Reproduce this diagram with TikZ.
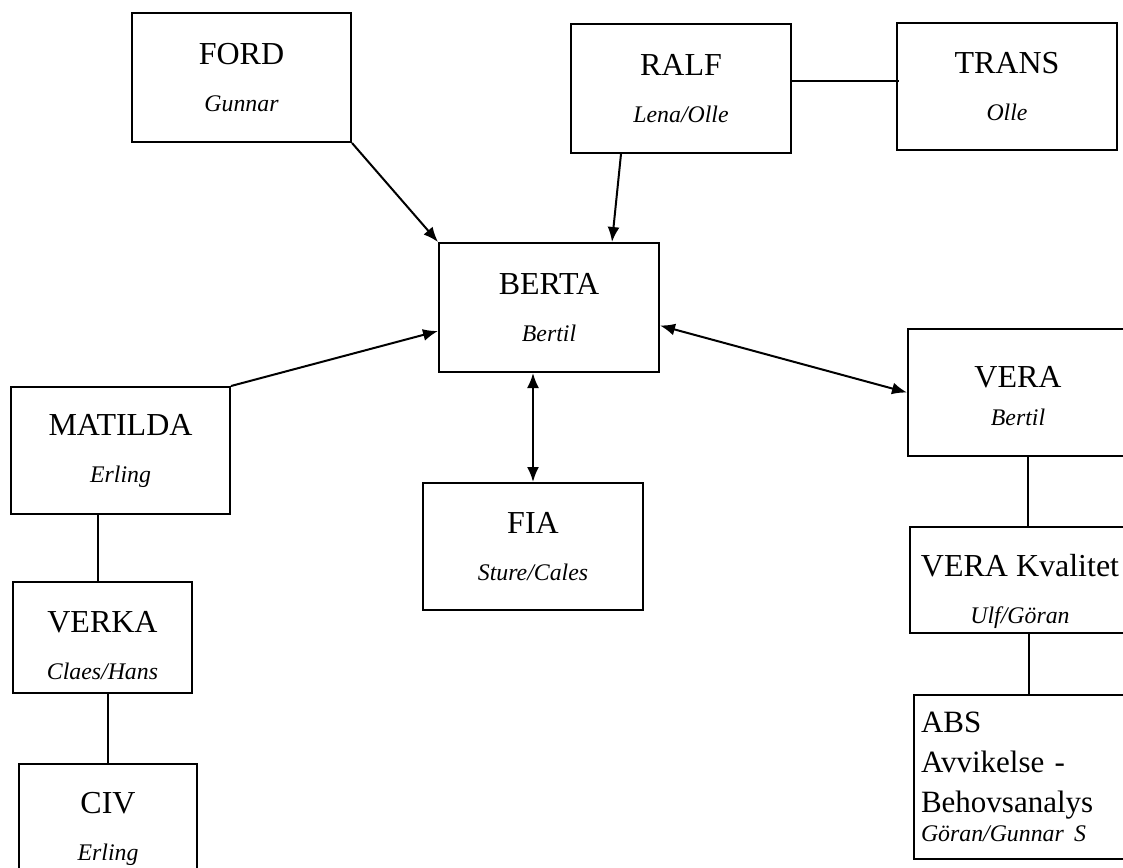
\documentclass[tikz,border=0pt]{standalone}
\usepackage{fontspec}
\setmainfont{Liberation Serif}
\usepackage{tikz}
\usetikzlibrary{positioning, calc, arrows.meta}
\newcommand{\titlefont}{\fontsize{16pt}{23.5pt}\selectfont}
\newcommand{\absfont}{\fontsize{15.5pt}{20pt}\selectfont}
\newcommand{\namefont}{\fontsize{11.9pt}{14pt}\selectfont\itshape}
\newcommand{\boxtext}[2]{#1\\{\namefont #2}}
\tikzstyle{unit}=[draw=black, line width=1pt, rectangle, inner sep=0pt,
  minimum width=110pt, minimum height=64pt, align=center, font=\titlefont]
\tikzstyle{inscr}=[inner sep=0pt, align=center, font=\titlefont]
\tikzstyle{link}=[line width=1pt]
\tikzstyle{arrow}=[->, line width=1pt, >={Latex[length=7.5pt,width=6pt]}]
\tikzstyle{biarrow}=[arrow, <->]

\begin{document}
\begin{tikzpicture}[x=0.5pt, y=-0.5pt]
      \useasboundingbox (0,0) rectangle (1123,867);
      \clip (0,0) rectangle (1123,867);

      % units
      \node[unit, minimum width=109.5pt, minimum height=64.5pt] (ford) at (241.5,77.5) {\boxtext{FORD}{Gunnar}};
      \node[unit, minimum height=64.5pt] (ralf) at (681,88.5) {\boxtext{RALF}{Lena/Olle}};
      \node[unit, minimum height=63.5pt] (trans) at (1007,86.5) {\boxtext{TRANS}{Olle}};
      \node[unit, minimum height=64.5pt] (berta) at (549,307.5) {\boxtext{BERTA}{Bertil}};
      \node[unit, minimum width=109.5pt, minimum height=63.5pt] (matilda) at (120.5,450.5) {\boxtext{MATILDA}{Erling}};
      \node[unit, minimum height=63.5pt] (fia) at (533,546.5) {\boxtext{FIA}{Sture/Cales}};
      \node[unit, minimum height=63.5pt] (vera) at (1018,392.5) {};
      \node[inscr] (veraText) at ($(vera)+(0,3.5)$) {VERA\\[-4.5pt]{\namefont Bertil}};

      \node[unit, minimum width=89.5pt, minimum height=55.5pt] (verka) at (102.5,637.5) {};
      \node[inscr] (verkaText) at ($(verka)+(0,8)$) {\boxtext{VERKA}{Claes/Hans}};
      \node[unit, minimum width=89pt, minimum height=64.5pt] (civ) at (108,828.5) {\boxtext{CIV}{Erling}};

      \node[unit, minimum height=53pt] (vk) at (1020,580) {};
      \node[inscr] (vkText) at ($(vk)+(0,11)$) {\boxtext{VERA Kvalitet}{Ulf/Göran}};
      \node[unit, align=left, text width=103pt, inner xsep=3.5pt, minimum height=82pt,
        font=\absfont] (abs) at (1024,777)
        {ABS\\Avvikelse -\\Behovsanalys\\[-5.5pt]{\namefont Göran/Gunnar S}};

      % connections
      \draw[link] ($(ralf.east)+(0,-7.5)$) -- ($(trans.west)+(3,-5.5)$);
      \draw[arrow] (ford.south east) -- (berta.north west);
      \draw[arrow] ($(ralf.south)+(-60,0)$) -- ($(berta.north)+(63,0)$);
      \draw[arrow] (matilda.north east) -- ($(berta.west)+(0,23.5)$);
      \draw[biarrow] ($(berta.east)+(0,18)$) -- (vera.west);
      \draw[biarrow] (fia.north |- berta.south) -- (fia.north);

      \draw[link] ($(matilda.south)+(-22.5,0)$) coordinate (m) -- (m |- verka.north);
      \draw[link] (civ.north) -- (civ.north |- verka.south);
      \draw[link] ($(vera.south)+(10,0)$) coordinate (v) -- (v |- vk.north);
      \draw[link] ($(abs.north)+(5,0)$) coordinate (a) -- (a |- vk.south);
\end{tikzpicture}
\end{document}
